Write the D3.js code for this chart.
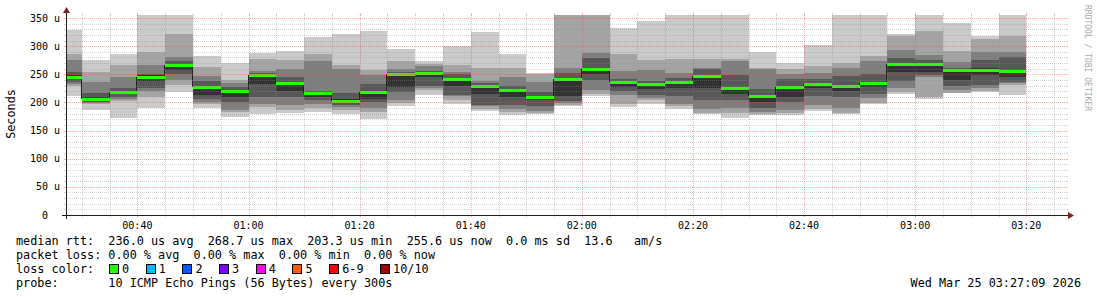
<!DOCTYPE html>
<html>
<head>
<meta charset="utf-8">
<script src="https://cdn.jsdelivr.net/npm/d3@7"></script>
<style>
  body { margin: 0; background: #fff; }
  svg { display: block; }
  text { font-family: "DejaVu Sans Mono", monospace; white-space: pre; }
</style>
</head>
<body>
<svg width="1097" height="297"></svg>
<script>
// 5 minute bins, end time of each bin (first one is cut by the graph start)
const binEnd = ['00:30','00:35','00:40','00:45','00:50','00:55','01:00','01:05','01:10','01:15',
                '01:20','01:25','01:30','01:35','01:40','01:45','01:50','01:55','02:00','02:05',
                '02:10','02:15','02:20','02:25','02:30','02:35','02:40','02:45','02:50','02:55',
                '03:00','03:05','03:10','03:15','03:20'];

// sorted ping rtts per bin, in microseconds (ping1 = fastest, ping10 = slowest)
const ping1  = [211,187,173,190,219,191,174,180,181,183,179,171,194,213,197,185,178,180,194,211,192,198,189,180,173,177,178,185,180,197,215,206,216,218,213];
const ping2  = [229,197,203,210,231,197,183,192,187,191,187,183,199,222,205,189,183,182,196,215,198,204,193,181,182,180,181,189,182,199,219,210,217,220,231];
const ping3  = [232,199,206,221,240,201,187,198,196,198,192,190,204,226,211,194,188,184,199,223,213,208,197,188,191,183,187,195,190,208,225,246,222,225,234];
const ping4  = [237,201,210,225,251,206,200,210,210,204,196,200,219,229,214,196,195,193,202,240,220,213,212,205,204,190,200,212,210,215,239,248,229,231,237];
const ping5  = [243,204,215,238,258,214,210,232,220,210,200,206,228,245,230,215,210,204,212,250,228,224,225,225,215,200,210,225,220,228,255,255,240,248,245];
const ping6  = [248,210,221,248,268,226,218,250,235,217,206,219,251,253,243,229,224,211,242,262,237,234,237,248,226,211,228,234,230,236,269,269,258,262,257];
const ping7  = [254,216,226,251,274,238,228,253,246,221,217,233,254,256,250,234,230,219,253,279,242,239,244,259,249,224,241,242,247,250,279,276,262,276,281];
const ping8  = [275,236,245,267,281,247,234,256,260,274,260,249,260,264,255,238,246,236,261,288,256,258,253,262,273,259,251,253,261,273,294,285,272,289,290];
const ping9  = [287,255,267,290,322,263,240,278,275,287,267,258,274,269,267,261,261,251,380,370,287,276,277,277,277,261,259,265,270,283,318,327,291,313,318];
const ping10 = [329,275,286,380,380,283,271,288,292,317,321,327,295,273,300,325,286,253,390,390,332,345,380,380,380,289,271,302,380,380,321,380,341,318,380];
const median = [246,207,219,246,267,228,220,249,234,216,203.3,219,250,252,241,229,223,210,241,259,236,233,237,247,225,211,227,233,229,234,268,268.7,258,257,255.6];

const yTicks = [0,50,100,150,200,250,300,350];
const lossLabels = ['0','1','2','3','4','5','6-9','10/10'];
const lossColors = ['#26ff00','#00b8ff','#0059ff','#7e00ff','#ff00ff','#ff5e00','#ff0000','#a10000'];
const legendLines = [
  'median rtt:  236.0 us avg  268.7 us max  203.3 us min  255.6 us now  0.0 ms sd  13.6   am/s',
  'packet loss: 0.00 % avg  0.00 % max  0.00 % min  0.00 % now',
  'loss color:',
  'probe:       10 ICMP Echo Pings (56 Bytes) every 300s'
];
const stamp = 'Wed Mar 25 03:27:09 2026';

const svg = d3.select('svg');
const width = Number(svg.attr('width'));

const X0 = 66, X1 = 1066, Y0 = 215, Y1 = 15;
const at = t => {
    const [h, m, s] = t.split(':').map(Number);
    return new Date(Date.UTC(2026, 2, 25, h, m, s || 0));
};
const start = at('00:27:09'), end = at('03:27:09');

const xScale = d3.scaleUtc().domain([start, end]).range([X0, X1]);
const yScale = d3.scaleLinear().domain([0, 355.5]).range([Y0, Y1]);
const px = v => Math.round(v);

const pings = [ping1, ping2, ping3, ping4, ping5, ping6, ping7, ping8, ping9, ping10];
const shades = ['#cacaca', '#a4a4a4', '#7e7e7e', '#585858', '#323232'];

const bins = binEnd.map((t, i) => {
    const e = at(t);
    const s = new Date(Math.max(+start, +e - 300000));
    return { x0: px(xScale(s)), x1: px(xScale(e)), p: pings.map(a => a[i]), med: median[i] };
});

svg.append('defs').append('clipPath').attr('id', 'plot')
    .append('rect').attr('x', X0).attr('y', Y1).attr('width', X1 - X0).attr('height', Y0 - Y1);

const g = svg.append('g').attr('clip-path', 'url(#plot)').attr('shape-rendering', 'crispEdges');

// smoke: pairs of pings from outside in, darker towards the middle
shades.forEach((c, k) => {
    g.selectAll(null).data(bins).enter().append('rect')
        .attr('x', d => d.x0)
        .attr('width', d => d.x1 - d.x0)
        .attr('y', d => px(yScale(d.p[9 - k])))
        .attr('height', d => px(yScale(d.p[k])) - px(yScale(d.p[9 - k])))
        .attr('fill', c);
});

// median: dark step joins, green level per bin
g.selectAll(null).data(bins.slice(0, -1)).enter().append('line')
    .attr('x1', d => d.x1 - 0.5).attr('x2', d => d.x1 - 0.5)
    .attr('y1', d => px(yScale(d.med)))
    .attr('y2', (d, i) => px(yScale(bins[i + 1].med)))
    .attr('stroke', '#202020').attr('stroke-width', 1);
g.selectAll(null).data(bins).enter().append('line')
    .attr('x1', d => d.x0).attr('x2', d => d.x1)
    .attr('y1', d => px(yScale(d.med)) + 0.5).attr('y2', d => px(yScale(d.med)) + 0.5)
    .attr('stroke', lossColors[0]).attr('stroke-width', 3);

// grid on top
const grid = svg.append('g').attr('shape-rendering', 'crispEdges');
const minorCol = 'rgba(143,143,143,0.38)', majorCol = 'rgba(222,79,79,0.45)';

d3.range(10, 351, 10).forEach(v => {
    const yy = px(yScale(v)) + 0.5, col = v % 50 ? minorCol : majorCol;
    grid.append('line').attr('x1', X0 - 2).attr('x2', X0).attr('y1', yy).attr('y2', yy).attr('stroke', col);
    grid.append('line').attr('x1', X1).attr('x2', X1 + 2).attr('y1', yy).attr('y2', yy).attr('stroke', col);
    grid.append('line').attr('x1', X0).attr('x2', X1).attr('y1', yy).attr('y2', yy)
        .attr('stroke', col).attr('stroke-dasharray', '1,1');
});

const minorT = xScale.ticks(d3.utcMinute.every(5));
const majorT = xScale.ticks(d3.utcMinute.every(20));
minorT.forEach(t => {
    const xx = px(xScale(t)) + 0.5, col = t.getUTCMinutes() % 20 ? minorCol : majorCol;
    grid.append('line').attr('x1', xx).attr('x2', xx).attr('y1', Y0).attr('y2', Y0 + 2).attr('stroke', col);
    grid.append('line').attr('x1', xx).attr('x2', xx).attr('y1', Y1 - 2).attr('y2', Y1).attr('stroke', col);
    grid.append('line').attr('x1', xx).attr('x2', xx).attr('y1', Y1).attr('y2', Y0)
        .attr('stroke', col).attr('stroke-dasharray', '1,1');
});

// axes and arrows
svg.append('line').attr('x1', X0 - 4).attr('x2', X1 + 4).attr('y1', Y0 + 0.5).attr('y2', Y0 + 0.5)
    .attr('stroke', '#1f1f1f').attr('shape-rendering', 'crispEdges');
svg.append('line').attr('x1', X0 + 0.5).attr('x2', X0 + 0.5).attr('y1', Y0 + 4).attr('y2', Y1 - 4)
    .attr('stroke', '#1f1f1f').attr('shape-rendering', 'crispEdges');
svg.append('path').attr('d', `M${X1 + 2},${Y0 - 3}L${X1 + 2},${Y0 + 4}L${X1 + 8},${Y0 + 0.5}Z`).attr('fill', '#801f1f');
svg.append('path').attr('d', `M${X0 - 3},${Y1 - 2}L${X0 + 4},${Y1 - 2}L${X0 + 0.5},${Y1 - 8}Z`).attr('fill', '#801f1f');

// tick labels
svg.append('g').selectAll('text').data(yTicks).enter().append('text')
    .attr('x', d => d ? 60 : 48)
    .attr('y', d => yScale(d) + 3.5)
    .attr('text-anchor', 'end')
    .attr('font-size', 10)
    .text(d => d ? `${d} u` : '0');

const fmt = d3.utcFormat('%H:%M');
svg.append('g').selectAll('text').data(majorT).enter().append('text')
    .attr('x', d => xScale(d))
    .attr('y', 229)
    .attr('text-anchor', 'middle')
    .attr('font-size', 10)
    .text(d => fmt(d));

svg.append('text')
    .attr('transform', 'translate(15,114) rotate(-90)')
    .attr('text-anchor', 'middle')
    .attr('font-size', 11.8)
    .text('Seconds');

svg.append('text')
    .attr('transform', 'translate(1085,5) rotate(90)')
    .attr('font-size', 8)
    .attr('fill', '#aaaaaa')
    .text('RRDTOOL / TOBI OETIKER');

// legend
const charW = 7.1;
svg.append('g').selectAll('text').data(legendLines).enter().append('text')
    .attr('x', 16)
    .attr('y', (d, i) => 245 + i * 14)
    .attr('font-size', 11.8)
    .text(d => d);

let lx = 109;
const boxes = lossLabels.map(l => {
    const item = { x: lx, label: l };
    lx += 13 + l.length * charW + 16.6;
    return item;
});
const lg = svg.append('g');
lg.selectAll('rect').data(boxes).enter().append('rect')
    .attr('x', d => Math.round(d.x) + 0.5).attr('y', 264.5)
    .attr('width', 9).attr('height', 9)
    .attr('fill', (d, i) => lossColors[i]).attr('stroke', '#000')
    .attr('shape-rendering', 'crispEdges');
lg.selectAll('text').data(boxes).enter().append('text')
    .attr('x', d => d.x + 13).attr('y', 273)
    .attr('font-size', 11.8)
    .text(d => d.label);

svg.append('text')
    .attr('x', width - 16).attr('y', 287)
    .attr('text-anchor', 'end')
    .attr('font-size', 11.8)
    .text(stamp);
</script>
</body>
</html>
